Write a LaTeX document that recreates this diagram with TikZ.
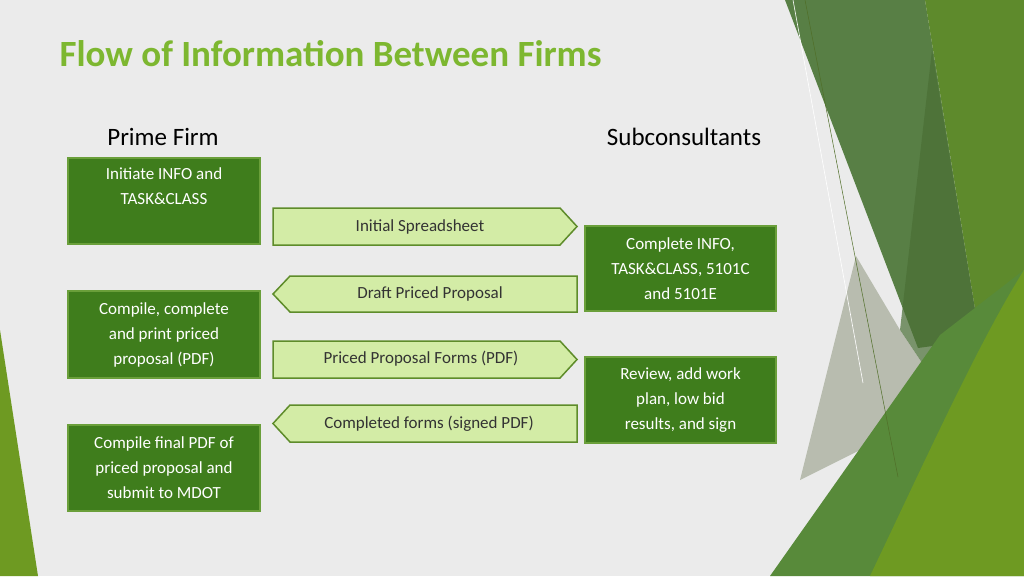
\documentclass[tikz,border=0pt]{standalone}
\usepackage{fontspec}
\setmainfont{Carlito}
\definecolor{bg}{HTML}{EBEBEB}
\definecolor{ttl}{HTML}{7DB730}
\definecolor{boxf}{HTML}{3F7D1C}
\definecolor{boxd}{HTML}{6A9F3A}
\definecolor{arrf}{HTML}{D3ECA6}
\definecolor{arrd}{HTML}{5E8C2A}
\definecolor{dA}{RGB}{88,127,69}
\definecolor{dB}{RGB}{94,138,44}
\definecolor{dC}{RGB}{74,110,53}
\definecolor{dD}{RGB}{150,158,135}
\definecolor{dE}{RGB}{88,138,58}
\definecolor{dF}{RGB}{110,154,34}
\definecolor{dG}{RGB}{80,110,40}
\begin{document}
\begin{tikzpicture}[x=1pt,y=-1pt,
  gbox/.style={draw=boxd,line width=1.5pt,fill=boxf,text=white,font=\fontsize{17}{25}\selectfont,align=center,inner sep=0pt},
  arr/.style={draw=arrd,line width=1.5pt,fill=arrf},
  atext/.style={text=black!80,font=\fontsize{17}{20}\selectfont}]
\fill[bg] (0,0) rectangle (1024,576);
\useasboundingbox (0,0) rectangle (1024,576);
% decoration
\fill[dA] (785,0)--(925,0)--(980,340)--(940,345)--(918,348)--cycle;
\fill[dB] (925,0)--(1024,0)--(1024,270)--(980,340)--cycle;
\fill[dC,opacity=.7] (932,50)--(980,340)--(940,390)--(900,330)--cycle;
\fill[dD,opacity=.6] (856,256)--(900,330)--(940,390)--(880,440)--(800,480)--cycle;
\fill[dE] (770,576)--(940,335)--(1024,270)--(1024,576)--cycle;
\fill[dF] (870,576)..controls (930,450) and (980,340)..(1024,270)--(1024,576)--cycle;
\draw[white,line width=.6pt] (793,0)--(863,383);
\draw[dG,line width=.5pt] (805,0)--(898,477);
\fill[dF] (0,330)--(38,576)--(0,576)--cycle;
% title
\node[anchor=west,text=ttl,font=\fontsize{37}{40}\selectfont\bfseries] (title) at (56,54) {Flow of Information Between Firms};
\node[font=\fontsize{25}{28}\selectfont] (pf) at (163,137) {Prime Firm};
\node[font=\fontsize{25}{28}\selectfont] (sc) at (684,137) {Subconsultants};
% boxes
\node[gbox,minimum width=192,minimum height=86] (b1) at (164,201) {Initiate INFO and\\TASK\&CLASS\\[-2pt]\strut};
\node[gbox,minimum width=192,minimum height=87] (b2) at (164,334.5) {Compile, complete\\and print priced\\proposal (PDF)};
\node[gbox,minimum width=192,minimum height=86] (b3) at (164,468) {Compile final PDF of\\priced proposal and\\submit to MDOT};
\node[gbox,minimum width=191,minimum height=85] (s1) at (680.5,268.5) {Complete INFO,\\TASK\&CLASS, 5101C\\and 5101E};
\node[gbox,minimum width=191,minimum height=86] (s2) at (680.5,400) {Review, add work\\plan, low bid\\results, and sign};
% arrows
\draw[arr] (273,208)--(560,208)--(577,226.5)--(560,245)--(273,245)--cycle;
\node[atext] (a1) at (420,227) {Initial Spreadsheet};
\draw[arr] (577,276)--(290,276)--(273,294)--(290,312)--(577,312)--cycle;
\node[atext] (a2) at (430,294) {Draft Priced Proposal};
\draw[arr] (273,341)--(560,341)--(577,359.5)--(560,378)--(273,378)--cycle;
\node[atext] (a3) at (421,359) {Priced Proposal Forms (PDF)};
\draw[arr] (577,405)--(290,405)--(273,423.5)--(290,442)--(577,442)--cycle;
\node[atext] (a4) at (429,424) {Completed forms (signed PDF)};
\end{tikzpicture}
\end{document}
